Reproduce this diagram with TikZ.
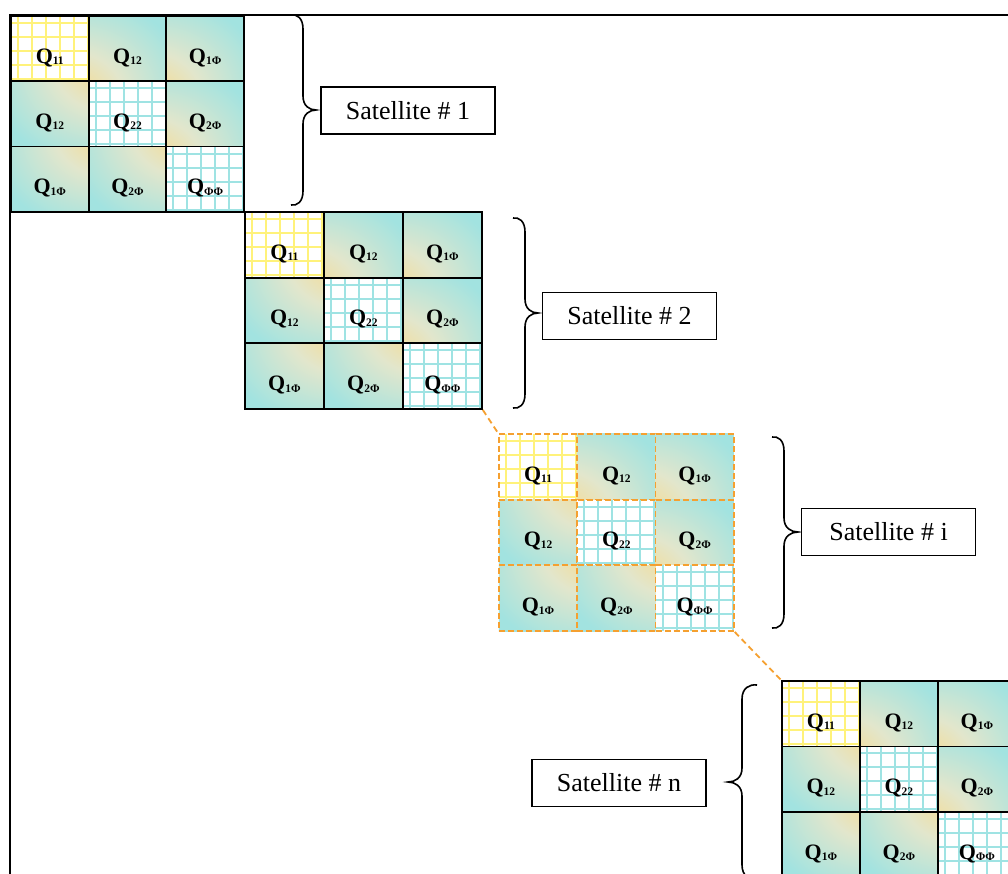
\documentclass[tikz,border=0pt]{standalone}
\usepackage{fontspec}
\setmainfont{Liberation Serif}
\usetikzlibrary{calc}
\definecolor{qt}{HTML}{A2E3E0}
\definecolor{qy}{HTML}{FAD985}
\definecolor{qm}{HTML}{E2E6CC}
\definecolor{gy}{HTML}{FFF27A}
\definecolor{gc}{HTML}{9FE3E3}
\definecolor{qo}{HTML}{F5A030}
\pgfdeclareradialshading{qbl}{\pgfpoint{-50bp}{-50bp}}{color(0bp)=(qy); color(12bp)=(qy); color(36bp)=(qm); color(66bp)=(qt); color(150bp)=(qt)}
\pgfdeclareradialshading{qtr}{\pgfpoint{50bp}{50bp}}{color(0bp)=(qy); color(12bp)=(qy); color(36bp)=(qm); color(66bp)=(qt); color(150bp)=(qt)}
\newcommand\qq[1]{\raisebox{-9pt}[\height][\depth]{\fontsize{22}{22}\selectfont\bfseries Q\raisebox{-1.5pt}{\fontsize{11.5}{11.5}\selectfont #1}}}
\tikzset{
  gridcell/.style={fill=white, path picture={
    \foreach \k in {0,...,5}{\draw[#1,solid,line width=2pt] ([xshift={7pt+\k*14pt}]path picture bounding box.north west) -- ([xshift={7pt+\k*14pt}]path picture bounding box.south west);}
    \foreach \k in {0,...,4}{\draw[#1,solid,line width=2pt] ([yshift={-7pt-\k*14pt}]path picture bounding box.north west) -- ([yshift={-7pt-\k*14pt}]path picture bounding box.north east);}
  }},
  blk/.style={draw=black, line width=1.8pt},
  dsh/.style={draw=qo, dashed, dash pattern=on 6pt off 3pt, line width=1.8pt},
  satbox/.style={draw=black, line width=1.3pt, fill=white, minimum width=174pt, minimum height=47pt, inner sep=0pt, font=\fontsize{26}{26}\selectfont},
  bracestyle/.style={draw=black, line width=1.6pt},
  link/.style={draw=qo, line width=1.8pt, dash pattern=on 6pt off 4pt},
  frame/.style={draw=black, line width=2pt}
}
% #1 name, #2 x, #3 y, #4 w, #5 h, #6 border style
\newcommand\satblock[6]{%
  \tikzset{cellsz/.style={minimum width=#4pt, minimum height=#5pt, inner sep=0pt, anchor=north west, #6}}
  \node[cellsz, gridcell=gy] (#1-11) at (#2,#3) {\qq{11}};
  \node[cellsz, shading=qbl] (#1-12) at ({#2+#4},#3) {\qq{12}};
  \node[cellsz, shading=qbl] (#1-13) at ({#2+2*#4},#3) {\qq{1Φ}};
  \node[cellsz, shading=qtr] (#1-21) at (#2,{#3+#5}) {\qq{12}};
  \node[cellsz, gridcell=gc] (#1-22) at ({#2+#4},{#3+#5}) {\qq{22}};
  \node[cellsz, shading=qbl] (#1-23) at ({#2+2*#4},{#3+#5}) {\qq{2Φ}};
  \node[cellsz, shading=qtr] (#1-31) at (#2,{#3+2*#5}) {\qq{1Φ}};
  \node[cellsz, shading=qtr] (#1-32) at ({#2+#4},{#3+2*#5}) {\qq{2Φ}};
  \node[cellsz, gridcell=gc] (#1-33) at ({#2+2*#4},{#3+2*#5}) {\qq{ΦΦ}};
}
% brace: #1 x end, #2 x mid, #3 x tip, #4 y top, #5 y mid, #6 y bottom
\newcommand\bracepath[6]{%
  \draw[bracestyle] (#1,#4) .. controls ({(#1+#2)/2},{#4-1}) and (#2,{#4+3}) .. (#2,{#4+14}) -- (#2,{#5-14}) .. controls (#2,{#5-4}) and ({(#2+#3)/2},#5) .. (#3,#5) .. controls ({(#2+#3)/2},#5) and (#2,{#5+4}) .. (#2,{#5+14}) -- (#2,{#6-14}) .. controls (#2,{#6-3}) and ({(#1+#2)/2},{#6+1}) .. (#1,#6);
}
\begin{document}
\begin{tikzpicture}[x=1pt,y=-1pt]
\useasboundingbox (0,0) rectangle (1008,873);
\clip (0,0) rectangle (1008,873);
\fill[white] (0,0) rectangle (1008,873);
% outer frame
\coordinate (ftl) at (10,15);
\coordinate (ftr) at (1010,15);
\coordinate (fbl) at (10,875);
\draw[frame] (ftr) -- (ftl) -- (fbl);
% blocks
\satblock{a}{10}{15}{77.7}{65.3}{blk}
\satblock{b}{244}{211}{79}{65.7}{blk}
\satblock{c}{498}{433}{78.3}{65.7}{dsh}
\satblock{d}{781}{680}{78}{65.5}{blk}
% dashed links
\draw[link] (b-33.south east) -- (c-11.north west);
\draw[link] (c-33.south east) -- (d-11.north west);
% braces
\bracepath{291}{303}{316}{15}{110}{205}
\bracepath{513}{525}{538}{218}{313}{408}
\bracepath{772}{784}{798}{437}{532}{628}
\bracepath{757}{742}{728}{685}{782}{879}
% labels
\node[satbox] (s1) at (408,110.5) {Satellite \# 1};
\node[satbox] (s2) at (629.5,316) {Satellite \# 2};
\node[satbox] (s3) at (888.5,532) {Satellite \# i};
\node[satbox] (s4) at (619,783) {Satellite \# n};
\end{tikzpicture}
\end{document}
